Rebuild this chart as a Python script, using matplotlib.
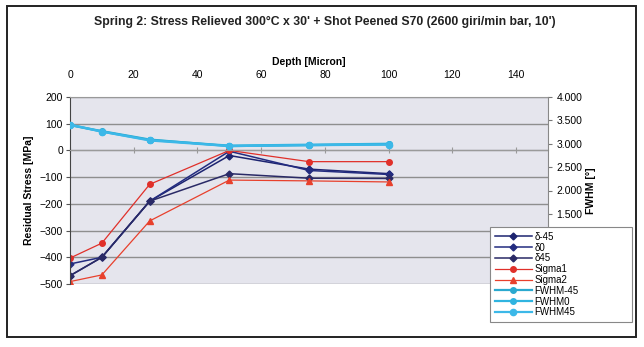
import numpy as np
import matplotlib
matplotlib.use('Agg')
import matplotlib.pyplot as plt
from matplotlib.patches import Rectangle
from matplotlib.ticker import FuncFormatter

plt.rcParams['font.family'] = ['Liberation Sans', 'DejaVu Sans']

# Depth of each measurement (micron)
depth = [0, 10, 25, 50, 75, 100]

# Residual stress series (MPa)
d_m45 = [-469, -400, -190, -19, -70, -87]
d_0 = [-425, -400, -190, -3, -75, -90]
d_45 = [-469, -400, -190, -87, -104, -105]
sigma1 = [-403, -347, -127, 0, -42, -42]
sigma2 = [-491, -466, -264, -111, -114, -118]

# FWHM series (deg)
fwhm_m45 = [3.40, 3.27, 3.09, 2.95, 2.97, 2.99]
fwhm_0 = [3.40, 3.26, 3.08, 2.96, 2.98, 3.00]
fwhm_45 = [3.41, 3.26, 3.07, 2.95, 2.97, 2.98]

x_ticks = [0, 20, 40, 60, 80, 100, 120, 140]
stress_ticks = [-500, -400, -300, -200, -100, 0, 100, 200]
fwhm_ticks = [0, 0.5, 1.0, 1.5, 2.0, 2.5, 3.0, 3.5, 4.0]

fig = plt.figure(figsize=(6.44, 3.47), dpi=100)
fig.patch.set_facecolor('white')

# Outer chart frame
fig.add_artist(Rectangle((7 / 644, 1 - 337 / 347), 629 / 644, 331 / 347,
                         transform=fig.transFigure, fill=False,
                         edgecolor='#222222', linewidth=1.4))

ax = fig.add_axes([70 / 644, 1 - 284 / 347, 478 / 644, 187 / 347])
ax.set_facecolor('#e5e5ed')
ax.set_xlim(0, 150)
ax.set_ylim(-500, 200)
ax.set_yticks(stress_ticks)
ax.yaxis.grid(True, color='#8e8e8e', linewidth=1.0)
ax.set_axisbelow(True)

# primary x axis sits on the zero line, labels hidden
ax.spines['bottom'].set_position(('data', 0))
ax.spines['bottom'].set_color('#9a9a9a')
ax.set_xticks(x_ticks)
ax.tick_params(axis='x', direction='inout', length=4, color='#9a9a9a',
               labelbottom=False)
ax.spines['left'].set_color('#444444')
ax.spines['top'].set_color('#999999')
ax.spines['right'].set_visible(False)
ax.tick_params(axis='y', length=3, color='#555555', labelsize=7.5, pad=2)
ax.set_ylabel('Residual Stress [MPa]', fontsize=7.5, fontweight='bold',
              labelpad=4)

# top axis with depth labels
top = ax.secondary_xaxis('top')
top.set_xticks(x_ticks)
top.tick_params(length=0, labelsize=7.5, pad=12)
top.set_xlabel('Depth [Micron]', fontsize=7.5, fontweight='bold', labelpad=4)
top.spines['top'].set_visible(False)

navy = ['#1d2470', '#232c80', '#2a2a66']
ax.plot(depth, d_m45, '-D', color=navy[0], lw=1.1, ms=3.5, label='δ-45')
ax.plot(depth, d_0, '-D', color=navy[1], lw=1.1, ms=3.5, label='δ0')
ax.plot(depth, d_45, '-D', color=navy[2], lw=1.1, ms=3.5, label='δ45')
ax.plot(depth, sigma1, '-o', color='#e0302a', lw=0.9, ms=4, label='Sigma1')
ax.plot(depth, sigma2, '-^', color='#e8402c', lw=0.9, ms=4, label='Sigma2')

ax2 = ax.twinx()
ax2.set_ylim(0, 4)
ax2.set_yticks(fwhm_ticks)
# lower labels sit behind the legend box in the original
ax2.yaxis.set_major_formatter(FuncFormatter(lambda v, p: f'{v:.3f}' if v >= 1.5 else ''))
ax2.tick_params(axis='y', length=3, color='#777777', labelsize=7.5, pad=3)
ax2.spines['right'].set_color('#888888')
for s in ['top', 'left', 'bottom']:
    ax2.spines[s].set_visible(False)
ax2.set_ylabel('FWHM [°]', fontsize=7.5, fontweight='bold', labelpad=3)

ax2.plot(depth, fwhm_m45, '-o', color='#2aa9cf', lw=1.6, ms=4, label='FWHM-45')
ax2.plot(depth, fwhm_0, '-o', color='#30b4e0', lw=1.6, ms=4, label='FWHM0')
ax2.plot(depth, fwhm_45, '-o', color='#3cb8e8', lw=1.6, ms=4.5, label='FWHM45')

# Title
fig.text(0.505, 1 - 22 / 347, "Spring 2: Stress Relieved 300°C x 30' + Shot Peened S70 "
         "(2600 giri/min bar, 10')", ha='center', va='center',
         fontsize=8.8, fontweight='bold', color='#222222')

h1, l1 = ax.get_legend_handles_labels()
h2, l2 = ax2.get_legend_handles_labels()
leg = fig.legend(h1 + h2, l1 + l2, loc='upper left', mode='expand',
                 bbox_to_anchor=(490 / 644, 1 - 327 / 347, 142 / 644, 100 / 347),
                 bbox_transform=fig.transFigure, fontsize=7,
                 labelspacing=0.08, handlelength=3.8, handletextpad=0.3,
                 borderpad=0.5, fancybox=False, framealpha=1,
                 edgecolor='#888888', borderaxespad=0)
leg.get_frame().set_linewidth(0.8)

fig.savefig('out.png', dpi=100, facecolor='white')
